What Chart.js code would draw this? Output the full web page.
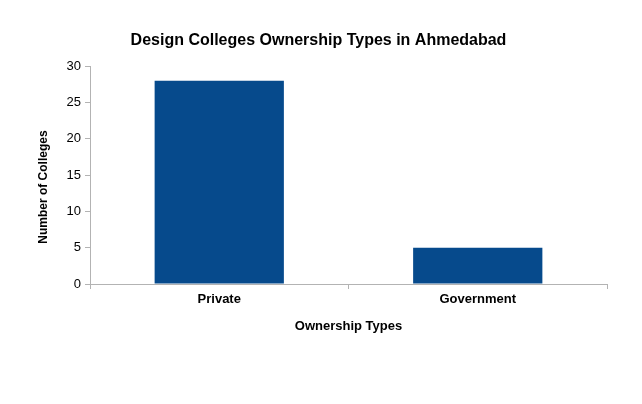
<!DOCTYPE html>
<html>
<head>
<meta charset="utf-8">
<script src="https://cdn.jsdelivr.net/npm/chart.js@4"></script>
<style>
  html, body { margin: 0; padding: 0; background: #fff; }
  #wrap { width: 642px; height: 404px; }
</style>
</head>
<body>
<div id="wrap"><canvas id="chart" width="642" height="404"></canvas></div>
<script>
// data
const categories = ["Private", "Government"];
const colleges = [28, 5];
const yTicks = [0, 5, 10, 15, 20, 25, 30];
const yTitle = "Number of Colleges";

// y axis title sits a bit below the middle of the plot in the original
const yTitlePlugin = {
  id: "yTitle",
  afterDraw(chart) {
    const c = chart.ctx;
    const area = chart.chartArea;
    c.save();
    c.translate(44, (area.top + area.bottom) / 2 + 12);
    c.rotate(-Math.PI / 2);
    c.font = "bold 12px 'Liberation Sans'";
    c.fillStyle = "#000";
    c.textAlign = "center";
    c.textBaseline = "middle";
    c.fillText(yTitle, 0, 0);
    c.restore();
  }
};

const ctx = document.getElementById("chart").getContext("2d");

new Chart(ctx, {
  type: "bar",
  data: {
    labels: categories,
    datasets: [{
      label: yTitle,
      data: colleges,
      backgroundColor: "#064a8c",
      borderWidth: 0,
      categoryPercentage: 0.5,
      barPercentage: 1.0
    }]
  },
  options: {
    responsive: false,
    animation: false,
    devicePixelRatio: 1,
    layout: { padding: { left: 30, right: 35, top: 0, bottom: 66 } },
    plugins: {
      legend: { display: false },
      tooltip: { enabled: false },
      title: {
        display: true,
        text: "Design Colleges Ownership Types in Ahmedabad",
        color: "#000",
        font: { family: "Liberation Sans", size: 16, weight: "bold" },
        padding: { top: 31, bottom: 16 }
      }
    },
    scales: {
      x: {
        grid: {
          display: true,
          drawOnChartArea: false,
          offset: true,
          color: "#b3b3b3",
          tickLength: 5
        },
        border: { display: true, color: "#b3b3b3" },
        ticks: {
          color: "#000",
          padding: 3,
          font: { family: "Liberation Sans", size: 13, weight: "bold" }
        },
        title: {
          display: true,
          text: "Ownership Types",
          color: "#000",
          padding: { top: 4 },
          font: { family: "Liberation Sans", size: 13, weight: "bold" }
        },
        afterFit: function (scale) { scale.height = 54; }
      },
      y: {
        min: 0,
        max: 30,
        afterBuildTicks: function (scale) {
          scale.ticks = yTicks.map(v => ({ value: v }));
        },
        grid: {
          display: true,
          drawOnChartArea: false,
          color: "#b3b3b3",
          tickLength: 5
        },
        border: { display: true, color: "#b3b3b3" },
        ticks: {
          color: "#000",
          padding: 4,
          font: { family: "Liberation Sans", size: 13 }
        },
        title: { display: false },
        afterFit: function (scale) { scale.width = 60; }
      }
    }
  },
  plugins: [yTitlePlugin]
});
</script>
</body>
</html>
